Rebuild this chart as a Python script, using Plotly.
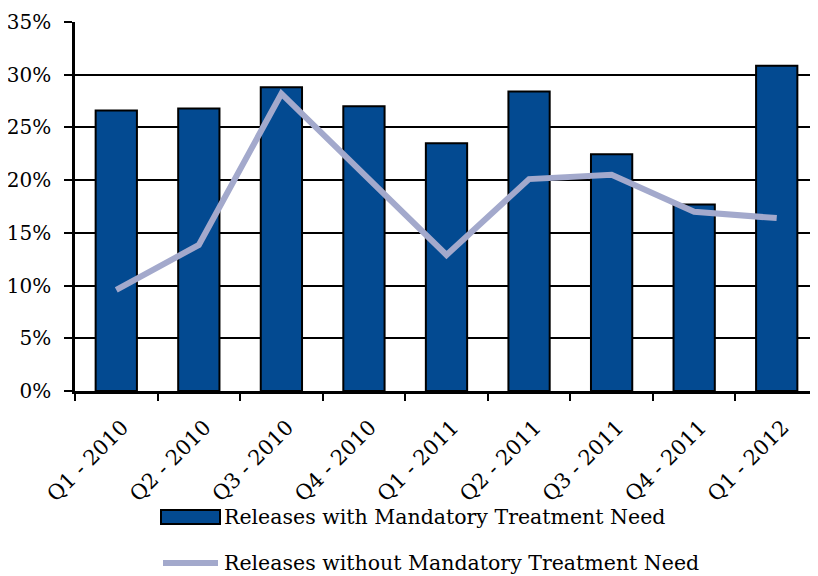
import plotly.graph_objects as go

categories = ["Q1 - 2010", "Q2 - 2010", "Q3 - 2010", "Q4 - 2010", "Q1 - 2011",
              "Q2 - 2011", "Q3 - 2011", "Q4 - 2011", "Q1 - 2012"]
with_mandatory = [26.6, 26.8, 28.8, 27.0, 23.5, 28.4, 22.45, 17.7, 30.85]
without_mandatory = [9.6, 13.85, 28.2, 20.6, 12.9, 20.1, 20.5, 17.0, 16.4]
y_ticks = [0, 5, 10, 15, 20, 25, 30, 35]
y_tick_labels = [f"{v}%" for v in y_ticks]
series_names = ["Releases with Mandatory Treatment Need",
                "Releases without Mandatory Treatment Need"]

FONT = "DejaVu Serif"
BAR_COLOR = "#034A91"
LINE_COLOR = "#A3A9CC"

fig = go.Figure()
fig.add_trace(go.Bar(
    x=categories, y=with_mandatory, name=series_names[0],
    marker=dict(color=BAR_COLOR, line=dict(color="black", width=2)),
))
fig.add_trace(go.Scatter(
    x=categories, y=without_mandatory, mode="lines", name=series_names[1],
    line=dict(color=LINE_COLOR, width=6),
))

# page body has an 8px default margin; plot area lands at x 75..818, y 22..391
W, H = 810, 568
ML, MT, MB = 67, 14, 185
PW = W - ML
PH = H - MT - MB


def px(xw):
    return (xw - 8 - ML) / PW


def py(yw):
    return (H - MB - (yw - 8)) / PH


# legend drawn as keys + text below the chart
fig.add_shape(type="rect", xref="paper", yref="paper",
              x0=px(161), x1=px(220), y0=py(524), y1=py(510),
              fillcolor=BAR_COLOR, line=dict(color="black", width=2))
fig.add_shape(type="line", xref="paper", yref="paper",
              x0=px(163), x1=px(218), y0=py(563), y1=py(563),
              line=dict(color=LINE_COLOR, width=6))
for name, yw in zip(series_names, [517, 563]):
    fig.add_annotation(text=name, xref="paper", yref="paper",
                       x=px(222), y=py(yw), xanchor="left", yanchor="middle",
                       showarrow=False,
                       font=dict(family=FONT, size=20.5, color="black"))

fig.update_layout(
    width=W, height=H,
    margin=dict(l=ML, r=0, t=MT, b=MB),
    paper_bgcolor="white", plot_bgcolor="white",
    font=dict(family=FONT, size=20, color="black"),
    bargap=0.5,
    showlegend=False,
)
fig.update_xaxes(
    showline=True, linecolor="black", linewidth=2.5,
    ticks="outside", tickson="boundaries", ticklen=7, tickwidth=2, tickcolor="black",
    tickangle=-45, showgrid=False, automargin=False,
    ticklabelstandoff=13, ticklabelshift=6,
    tickfont=dict(family=FONT, size=21, color="black"),
)
fig.update_yaxes(
    range=[0, 35], tickvals=y_ticks, ticktext=y_tick_labels,
    showline=True, linecolor="black", linewidth=2.5,
    ticks="outside", ticklen=8, tickwidth=2, tickcolor="black",
    showgrid=True, gridcolor="black", gridwidth=1.5,
    zeroline=False, automargin=False, ticklabelstandoff=9,
    tickfont=dict(family=FONT, size=20, color="black"),
)

fig.write_html("out.html")
